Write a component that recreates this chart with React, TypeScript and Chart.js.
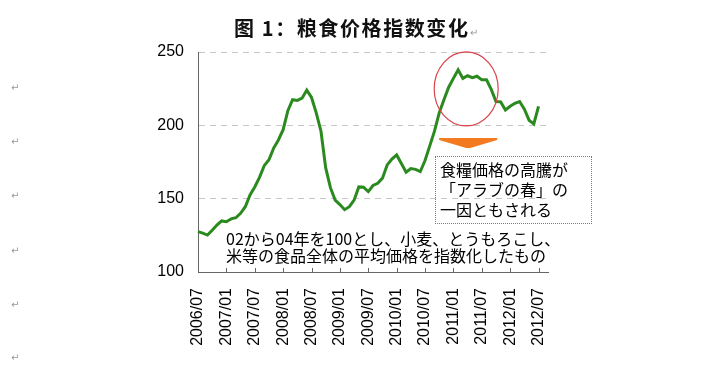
import React, { useEffect, useRef } from "react";
import { Chart, registerables } from "chart.js";

Chart.register(...registerables);

const months: string[] = [
  "2006/07", "2006/08", "2006/09", "2006/10", "2006/11", "2006/12",
  "2007/01", "2007/02", "2007/03", "2007/04", "2007/05", "2007/06",
  "2007/07", "2007/08", "2007/09", "2007/10", "2007/11", "2007/12",
  "2008/01", "2008/02", "2008/03", "2008/04", "2008/05", "2008/06",
  "2008/07", "2008/08", "2008/09", "2008/10", "2008/11", "2008/12",
  "2009/01", "2009/02", "2009/03", "2009/04", "2009/05", "2009/06",
  "2009/07", "2009/08", "2009/09", "2009/10", "2009/11", "2009/12",
  "2010/01", "2010/02", "2010/03", "2010/04", "2010/05", "2010/06",
  "2010/07", "2010/08", "2010/09", "2010/10", "2010/11", "2010/12",
  "2011/01", "2011/02", "2011/03", "2011/04", "2011/05", "2011/06",
  "2011/07", "2011/08", "2011/09", "2011/10", "2011/11", "2011/12",
  "2012/01", "2012/02", "2012/03", "2012/04", "2012/05", "2012/06",
  "2012/07", "2012/08", "2012/09",
];

const foodPriceIndex: number[] = [
  127.5, 126.5, 125.2, 128.5, 132.0, 134.8,
  134.3, 136.2, 137.0, 140.0, 144.5, 152.5,
  158.0, 164.5, 172.5, 176.5, 184.5, 190.0,
  197.0, 210.0, 217.5, 217.0, 218.5, 224.0,
  219.0, 208.5, 196.0, 171.0, 157.5, 149.0,
  146.0, 142.5, 144.5, 149.0, 158.0, 157.8,
  154.8, 159.0, 160.5, 164.0, 173.0, 177.0,
  179.8, 174.0, 168.0, 170.5, 170.0, 168.5,
  176.0, 186.0, 196.0, 208.5, 217.5, 226.0,
  232.0, 237.8, 232.0, 233.8, 232.5, 233.5,
  231.0, 231.0, 224.5, 216.2, 216.0, 210.5,
  213.0, 215.0, 216.2, 211.0, 203.5, 201.0,
  213.0,
];

const yTicks: number[] = [100, 150, 200, 250];

const titleText = "图 1：粮食价格指数变化";
const noteLines: string[] = [
  "02から04年を100とし、小麦、とうもろこし、",
  "米等の食品全体の平均価格を指数化したもの",
];
const calloutLines: string[] = ["食糧価格の高騰が", "「アラブの春」の", "一因ともされる"];

const W = 703;
const H = 369;

export default function App() {
  const ref = useRef<HTMLCanvasElement | null>(null);

  useEffect(() => {
    document.body.style.margin = "0";
    const canvas = ref.current;
    if (!canvas) return;

    const overlay = {
      id: "overlay",
      afterDraw(chart: any) {
        const ctx = chart.ctx;
        const x = chart.scales.x;
        const y = chart.scales.y;
        const bottom = chart.chartArea.bottom;
        // inward tick marks on x axis
        ctx.save();
        ctx.strokeStyle = "#666";
        ctx.lineWidth = 1;
        x.ticks.forEach((_t: any, i: number) => {
          const px = Math.round(x.getPixelForTick(i)) + 0.5;
          ctx.beginPath();
          ctx.moveTo(px, bottom);
          ctx.lineTo(px, bottom - 4);
          ctx.stroke();
        });
        // red ellipse around 2011 peak
        const cx = x.getPixelForValue(56.7);
        const cy = y.getPixelForValue(224.8);
        ctx.strokeStyle = "#d9434a";
        ctx.lineWidth = 1.2;
        ctx.beginPath();
        ctx.ellipse(cx, cy, 32, 37, 0, 0, Math.PI * 2);
        ctx.stroke();
        // orange arrow
        const ay = cy + 49;
        ctx.fillStyle = "#f47a20";
        ctx.beginPath();
        ctx.moveTo(cx - 27, ay);
        ctx.lineTo(cx + 31, ay);
        ctx.lineTo(cx + 31, ay + 2);
        ctx.lineTo(cx + 4, ay + 10);
        ctx.lineTo(cx, ay + 10);
        ctx.lineTo(cx - 27, ay + 2);
        ctx.closePath();
        ctx.fill();
        ctx.restore();
      },
    };

    const chart = new Chart(canvas, {
      type: "line",
      data: {
        labels: months,
        datasets: [
          {
            data: foodPriceIndex,
            borderColor: "#2b8a1f",
            borderWidth: 3,
            pointRadius: 0,
            tension: 0,
            fill: false,
          },
        ],
      },
      options: {
        responsive: false,
        animation: false,
        devicePixelRatio: 1,
        layout: { padding: { left: 0, right: 155, top: 52, bottom: 0 } },
        plugins: { legend: { display: false }, tooltip: { enabled: false } },
        scales: {
          x: {
            type: "category",
            offset: false,
            grid: { display: true, drawOnChartArea: false, drawTicks: false },
            border: { display: true, color: "#666", width: 1 },
            ticks: {
              autoSkip: false,
              maxRotation: 90,
              minRotation: 90,
              padding: 16,
              color: "#000",
              font: { family: "'Liberation Sans', Arial, sans-serif", size: 16 },
            },
            afterBuildTicks: (s: any) => {
              s.ticks = s.ticks.filter((t: any) => t.value % 6 === 0);
            },
            afterFit: (s: any) => {
              s.height = 97;
            },
          },
          y: {
            min: yTicks[0],
            max: yTicks[yTicks.length - 1],
            afterBuildTicks: (s: any) => {
              s.ticks = yTicks.map((v) => ({ value: v }));
            },
            grid: {
              drawTicks: false,
              color: (c: any) => (c.tick && c.tick.value === yTicks[0] ? "rgba(0,0,0,0)" : "#c8c8c8"),
              lineWidth: 1,
            },
            border: { display: true, color: "#666", width: 1, dash: [6, 5] },
            ticks: {
              padding: 14,
              color: "#000",
              font: { family: "'Liberation Sans', Arial, sans-serif", size: 16 },
            },
            afterFit: (s: any) => {
              s.width = 198;
            },
          },
        },
      },
      plugins: [overlay],
    });
    return () => chart.destroy();
  }, []);

  const mark: React.CSSProperties = {
    position: "absolute",
    color: "#999",
    fontSize: 10,
    fontFamily: "'DejaVu Sans', sans-serif",
    lineHeight: "10px",
  };
  const leftMarks = [83, 137, 191, 246, 300, 353];

  return (
    <div style={{ position: "fixed", left: 0, top: 0, width: W, height: H, background: "#fff", overflow: "hidden" }}>
      <canvas ref={ref} width={W} height={H} style={{ position: "absolute", left: 0, top: 0, width: W, height: H }} />
      <div
        style={{
          position: "absolute",
          left: 234,
          top: 14,
          fontFamily: "'Noto Sans CJK SC', sans-serif",
          fontWeight: 700,
          fontSize: 20,
          letterSpacing: "1.6px",
          lineHeight: "28px",
          color: "#111",
          whiteSpace: "nowrap",
        }}
      >
        {titleText}
        <span style={{ fontSize: 10, color: "#999", fontWeight: 400, letterSpacing: 0 }}>↵</span>
      </div>
      {leftMarks.map((t, i) => (
        <span key={i} style={{ ...mark, left: 11, top: t }}>↵</span>
      ))}
      <div
        style={{
          position: "absolute",
          left: 226,
          top: 230,
          fontFamily: "'Noto Sans CJK JP', sans-serif",
          fontSize: 16,
          lineHeight: "17px",
          color: "#000",
          whiteSpace: "nowrap",
        }}
      >
        {noteLines.map((l, i) => (
          <div key={i}>{l}</div>
        ))}
      </div>
      <div
        style={{
          position: "absolute",
          left: 435,
          top: 156,
          width: 157,
          height: 68,
          border: "1px dotted #e8485a",
          boxSizing: "border-box",
          padding: "2px 4px",
          fontFamily: "'Noto Sans CJK JP', sans-serif",
          fontSize: 16,
          lineHeight: "20px",
          color: "#000",
          whiteSpace: "nowrap",
        }}
      >
        {calloutLines.map((l, i) => (
          <div key={i}>{l}</div>
        ))}
      </div>
    </div>
  );
}
